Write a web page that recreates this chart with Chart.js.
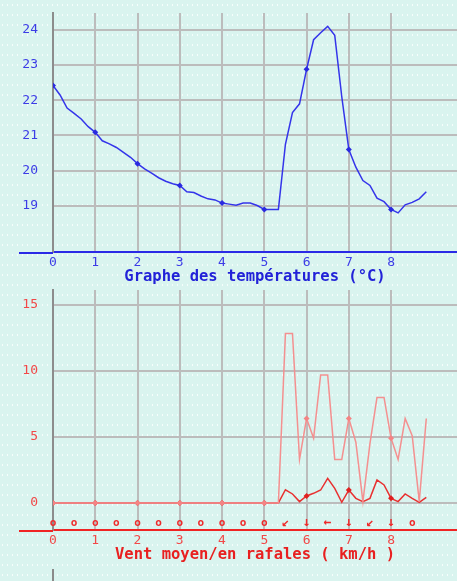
<!DOCTYPE html>
<html>
<head>
<meta charset="utf-8">
<script src="https://cdn.jsdelivr.net/npm/chart.js@4"></script>
<style>
  body { margin: 0; width: 457px; height: 581px; overflow: hidden; position: relative;
         background-color: #d9f4ef;
         background-image: radial-gradient(circle, rgba(255,255,255,0.8) 0.6px, transparent 0.9px);
         background-size: 5px 10px; }
  canvas { position: absolute; left: 0; }
  #temp { top: 0; }
  #wind { top: 288px; }
  #next { position: absolute; left: 52px; top: 569px; width: 2px; height: 12px; background: #8a8a8a; }
</style>
</head>
<body>
<canvas id="temp" width="457" height="290"></canvas>
<canvas id="wind" width="457" height="293"></canvas>
<div id="next"></div>
<script>
// one value every 1/6 of a unit on the x axis
const STEP = 1 / 6;
const xTicks = [0, 1, 2, 3, 4, 5, 6, 7, 8];
const tempTicks = [19, 20, 21, 22, 23, 24];
const windTicks = [0, 5, 10, 15];

const temperature = [
  22.42, 22.15, 21.78, 21.63, 21.47, 21.25,
  21.09, 20.85, 20.76, 20.66, 20.52, 20.38,
  20.20, 20.05, 19.93, 19.80, 19.70, 19.63,
  19.58, 19.40, 19.38, 19.28, 19.20, 19.17,
  19.08, 19.05, 19.02, 19.08, 19.08, 19.01,
  18.90, 18.90, 18.90, 20.75, 21.65, 21.90,
  22.88, 23.72, 23.92, 24.10, 23.85, 22.10,
  20.60, 20.10, 19.72, 19.58, 19.22, 19.12,
  18.90, 18.80, 19.03, 19.10, 19.20, 19.40
];

const gusts = [
  0, 0, 0, 0, 0, 0,
  0, 0, 0, 0, 0, 0,
  0, 0, 0, 0, 0, 0,
  0, 0, 0, 0, 0, 0,
  0, 0, 0, 0, 0, 0,
  0, 0, 0, 12.85, 12.85, 3.3,
  6.4, 4.9, 9.7, 9.7, 3.3, 3.3,
  6.4, 4.6, 0.1, 4.5, 8.0, 8.0,
  4.9, 3.3, 6.4, 5.1, 0.1, 6.4
];

const meanWind = [
  0, 0, 0, 0, 0, 0,
  0, 0, 0, 0, 0, 0,
  0, 0, 0, 0, 0, 0,
  0, 0, 0, 0, 0, 0,
  0, 0, 0, 0, 0, 0,
  0, 0, 0, 1.0, 0.68, 0.1,
  0.53, 0.73, 0.98, 1.87, 1.11, 0.05,
  0.98, 0.35, 0.1, 0.35, 1.74, 1.36,
  0.35, 0.1, 0.68, 0.35, 0.05, 0.43
];

// wind direction, every half unit from 0 to 8.5
const windDir = ['o', 'o', 'o', 'o', 'o', 'o', 'o', 'o', 'o', 'o', 'o',
                 '↙', '↓', '←', '↓', '↙', '↓', 'o'];
const DIR_LEVEL = -1.5;

const GRID = '#bcbcbc';
const MONO = '"DejaVu Sans Mono", monospace';

const toPoints = arr => arr.map((v, i) => ({x: i * STEP, y: v}));
const onHour = c => (c.dataIndex % 6 === 0 ? 3 : 0);
const noPad = s => { s.paddingTop = 0; s.paddingBottom = 0; s.paddingLeft = 0; s.paddingRight = 0; };

// stretches the x axis line to the left of the y axis
const axisStub = {
  id: 'axisStub',
  afterDraw(chart, args, opts) {
    const {ctx, chartArea} = chart;
    ctx.save();
    ctx.strokeStyle = opts.color;
    ctx.lineWidth = 2;
    ctx.beginPath();
    ctx.moveTo(19, chartArea.bottom + 1);
    ctx.lineTo(chartArea.left, chartArea.bottom + 1);
    ctx.stroke();
    ctx.restore();
  }
};

const windArrows = {
  id: 'windArrows',
  afterDatasetsDraw(chart, args, opts) {
    if (!opts.show) return;
    const {ctx, scales} = chart;
    ctx.save();
    ctx.fillStyle = '#ee2a2a';
    ctx.textAlign = 'center';
    ctx.textBaseline = 'middle';
    windDir.forEach((d, i) => {
      ctx.font = (d === 'o' ? 'bold 11px ' : 'bold 13px ') + MONO;
      ctx.fillText(d, scales.x.getPixelForValue(i / 2), scales.y.getPixelForValue(DIR_LEVEL));
    });
    ctx.restore();
  }
};

function makeOptions(cfg) {
  return {
    responsive: false,
    animation: false,
    layout: {autoPadding: false, padding: {top: cfg.top, left: 0, right: 0, bottom: 0}},
    plugins: {
      legend: {display: false},
      tooltip: {enabled: false},
      axisStub: {color: cfg.axisColor},
      windArrows: {show: cfg.arrows}
    },
    scales: {
      x: {
        type: 'linear',
        min: 0,
        max: 9.56,
        afterBuildTicks: s => { s.ticks = xTicks.map(v => ({value: v})); },
        afterFit: s => { s.height = cfg.xHeight; noPad(s); },
        grid: {color: GRID, lineWidth: 2, drawTicks: false},
        border: {display: true, color: cfg.axisColor, width: 2},
        ticks: {color: cfg.tickColor, font: {family: MONO, size: 13}, padding: 3, maxRotation: 0},
        title: {
          display: true,
          text: cfg.title,
          color: cfg.titleColor,
          font: {family: MONO, size: 15.5, weight: 'bold'},
          padding: {top: 0, bottom: cfg.titlePad}
        }
      },
      y: {
        min: cfg.yMin,
        max: cfg.yMax,
        afterBuildTicks: s => { s.ticks = cfg.yTicks.map(v => ({value: v})); },
        afterFit: s => { s.width = 53; noPad(s); },
        grid: {color: GRID, lineWidth: 2, drawTicks: false},
        border: {display: true, color: '#8c8c8c', width: 2},
        ticks: {color: cfg.tickColor, font: {family: MONO, size: 13}, padding: 15}
      }
    }
  };
}

new Chart(document.getElementById('temp'), {
  type: 'line',
  data: {
    datasets: [{
      data: toPoints(temperature),
      borderColor: '#3434ea',
      backgroundColor: '#2a2ae0',
      borderWidth: 1.5,
      tension: 0,
      pointStyle: 'rectRot',
      pointRadius: onHour,
      pointBorderWidth: 0
    }]
  },
  options: makeOptions({
    top: 13, xHeight: 38, yMin: 17.69, yMax: 24.48, yTicks: tempTicks,
    axisColor: '#2a2ae6', tickColor: '#3c3ce6', titleColor: '#2222d8',
    title: 'Graphe des températures (°C)', titlePad: 4, arrows: false
  }),
  plugins: [axisStub, windArrows]
});

// gusts first so they are drawn on top of the mean wind
new Chart(document.getElementById('wind'), {
  type: 'line',
  data: {
    datasets: [{
      data: toPoints(gusts),
      borderColor: '#f49090',
      backgroundColor: '#f48484',
      borderWidth: 1.5,
      tension: 0,
      pointStyle: 'rectRot',
      pointRadius: onHour,
      pointBorderWidth: 0
    }, {
      data: toPoints(meanWind),
      borderColor: '#e83030',
      backgroundColor: '#e02020',
      borderWidth: 1.5,
      tension: 0,
      pointStyle: 'rectRot',
      pointRadius: onHour,
      pointBorderWidth: 0
    }]
  },
  options: makeOptions({
    top: 2, xHeight: 51, yMin: -2.05, yMax: 16.14, yTicks: windTicks,
    axisColor: '#f02424', tickColor: '#f24848', titleColor: '#e82020',
    title: 'Vent moyen/en rafales ( km/h )', titlePad: 17, arrows: true
  }),
  plugins: [axisStub, windArrows]
});
</script>
</body>
</html>
